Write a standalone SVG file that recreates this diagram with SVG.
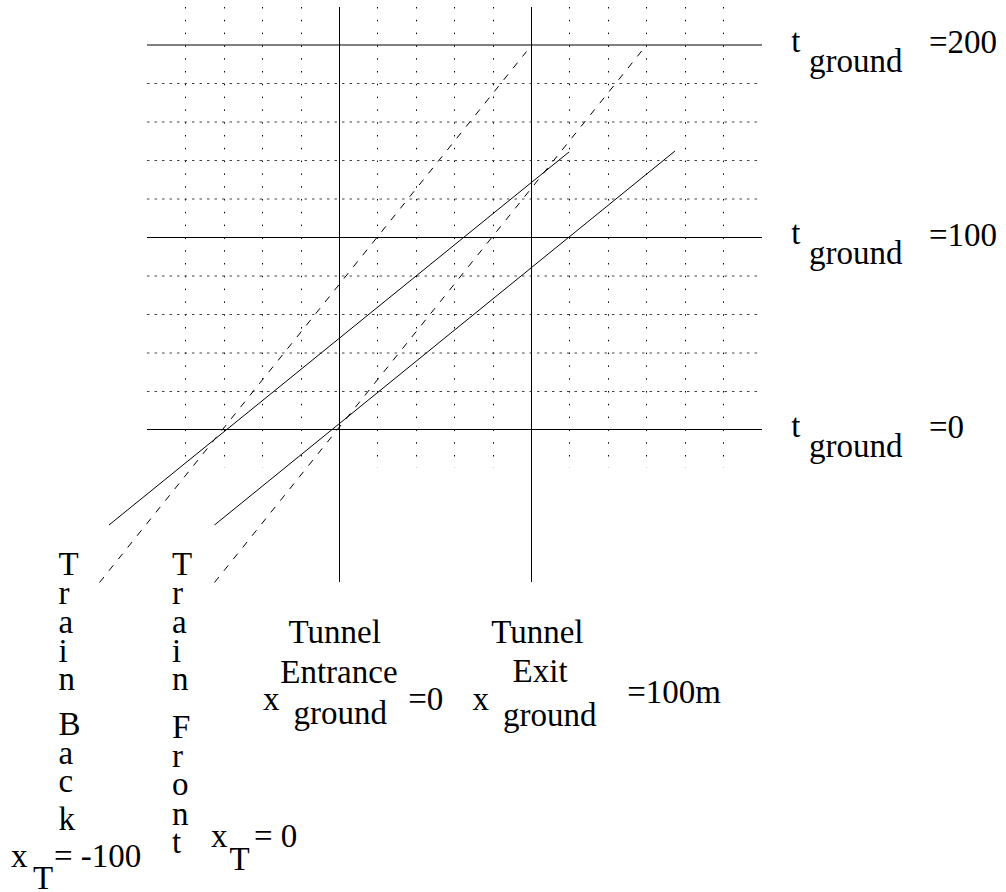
<svg xmlns="http://www.w3.org/2000/svg" width="1006" height="892" viewBox="0 0 1006 892">
<style>
.bg{fill:#fff}
.solid{stroke:#000;stroke-width:1;fill:none}
.vdot{stroke:#000;stroke-width:1;stroke-dasharray:1.5 11.3;fill:none}
.hdot{stroke:#444;stroke-width:1;stroke-dasharray:2.5 5;fill:none}
.dash{stroke:#000;stroke-width:1;stroke-dasharray:7 8;fill:none}
</style>
<rect class="bg" x="0" y="0" width="1006" height="892"/>
<g id="grid">
  <g id="grid-vertical-dotted">
    <line class="vdot" x1="185.5" y1="7" x2="185.5" y2="468"/>
    <line class="vdot" x1="224.5" y1="7" x2="224.5" y2="468"/>
    <line class="vdot" x1="262.5" y1="7" x2="262.5" y2="468"/>
    <line class="vdot" x1="301.5" y1="7" x2="301.5" y2="468"/>
    <line class="vdot" x1="377.5" y1="7" x2="377.5" y2="468"/>
    <line class="vdot" x1="416.5" y1="7" x2="416.5" y2="468"/>
    <line class="vdot" x1="454.5" y1="7" x2="454.5" y2="468"/>
    <line class="vdot" x1="493.5" y1="7" x2="493.5" y2="468"/>
    <line class="vdot" x1="569.5" y1="7" x2="569.5" y2="468"/>
    <line class="vdot" x1="608.5" y1="7" x2="608.5" y2="468"/>
    <line class="vdot" x1="646.5" y1="7" x2="646.5" y2="468"/>
    <line class="vdot" x1="685.5" y1="7" x2="685.5" y2="468"/>
    <line class="vdot" x1="723.5" y1="7" x2="723.5" y2="468"/>
  </g>
  <g id="grid-horizontal-dotted">
    <line class="hdot" x1="147" y1="83.5" x2="762" y2="83.5"/>
    <line class="hdot" x1="147" y1="122" x2="762" y2="122"/>
    <line class="hdot" x1="147" y1="160.5" x2="762" y2="160.5"/>
    <line class="hdot" x1="147" y1="199" x2="762" y2="199"/>
    <line class="hdot" x1="147" y1="276" x2="762" y2="276"/>
    <line class="hdot" x1="147" y1="314.5" x2="762" y2="314.5"/>
    <line class="hdot" x1="147" y1="353" x2="762" y2="353"/>
    <line class="hdot" x1="147" y1="391.5" x2="762" y2="391.5"/>
  </g>
  <g id="time-axes">
    <line class="solid" x1="147" y1="45" x2="762" y2="45"/>
    <line class="solid" x1="147" y1="237.5" x2="762" y2="237.5"/>
    <line class="solid" x1="147" y1="429.5" x2="762" y2="429.5"/>
  </g>
  <g id="tunnel-lines">
    <line class="solid" x1="339.5" y1="7" x2="339.5" y2="582"/>
    <line class="solid" x1="531.5" y1="7" x2="531.5" y2="582"/>
  </g>
</g>
<g id="connectors">
  <line id="back-ground" class="solid" x1="109" y1="525" x2="569" y2="152"/>
  <line id="front-ground" class="solid" x1="214.5" y1="525" x2="675" y2="151"/>
  <line id="back-train" class="dash" x1="99.5" y1="582.5" x2="526.5" y2="51.5"/>
  <line id="front-train" class="dash" x1="214.5" y1="582.5" x2="642.5" y2="50"/>
</g>
<g id="labels" font-family="'Liberation Serif', 'Times New Roman', serif" font-size="33" fill="#000">
<g id="label-t200">
  <text x="791.3" y="51.7">t</text>
  <text x="809.1" y="71.7">ground</text>
  <text x="929" y="53.3">=200</text>
</g>
<g id="label-t100">
  <text x="791.3" y="244.2">t</text>
  <text x="809.1" y="264.2">ground</text>
  <text x="929" y="245.8">=100</text>
</g>
<g id="label-t0">
  <text x="791.3" y="436.7">t</text>
  <text x="809.1" y="456.7">ground</text>
  <text x="929" y="438.3">=0</text>
</g>
<g id="label-entrance">
  <text x="288.5" y="643.3">Tunnel</text>
  <text x="280.3" y="682.7">Entrance</text>
  <text x="262.9" y="710">x</text>
  <text x="293.4" y="724">ground</text>
  <text x="408.2" y="710">=0</text>
</g>
<g id="label-exit">
  <text x="491.2" y="643.3">Tunnel</text>
  <text x="512.6" y="681.7">Exit</text>
  <text x="472.6" y="710">x</text>
  <text x="503.1" y="726">ground</text>
  <text x="627.2" y="703">=100m</text>
</g>
<g id="label-train-back">
  <text x="58.5" y="575">T</text>
  <text x="58.5" y="603.5">r</text>
  <text x="58.5" y="632.5">a</text>
  <text x="58.5" y="661.5">i</text>
  <text x="58.5" y="690">n</text>
  <text x="58.5" y="735">B</text>
  <text x="58.5" y="763.5">a</text>
  <text x="58.5" y="791.5">c</text>
  <text x="58.5" y="830">k</text>
  <text x="11" y="866.7">x</text>
  <text x="33" y="889">T</text>
  <text x="54" y="866.7">= -100</text>
</g>
<g id="label-train-front">
  <text x="172" y="575">T</text>
  <text x="172" y="603.5">r</text>
  <text x="172" y="632.5">a</text>
  <text x="172" y="661.5">i</text>
  <text x="172" y="690">n</text>
  <text x="172" y="738.3">F</text>
  <text x="172" y="766.7">r</text>
  <text x="172" y="795">o</text>
  <text x="172" y="825">n</text>
  <text x="172" y="853.3">t</text>
  <text x="211" y="846.7">x</text>
  <text x="229.5" y="870">T</text>
  <text x="254" y="846.7">= 0</text>
</g>
</g>
</svg>
